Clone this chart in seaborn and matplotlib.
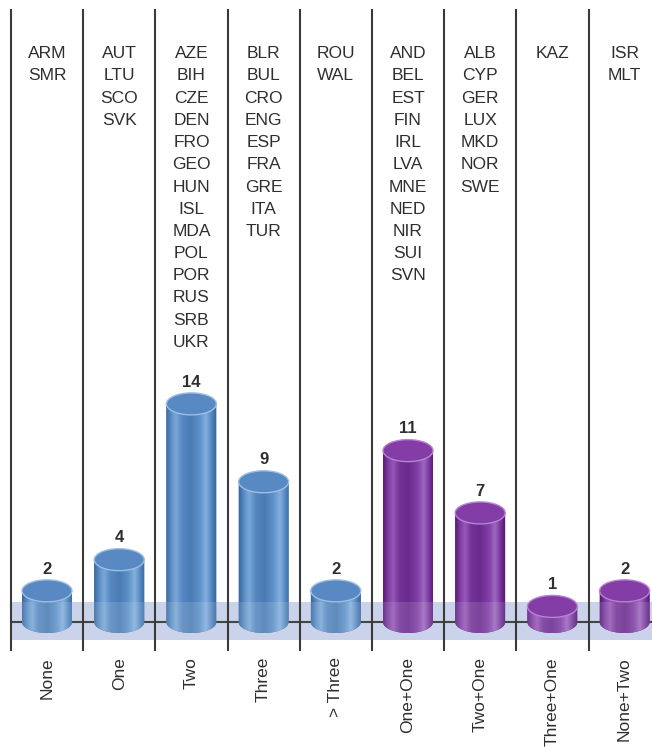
import numpy as np
import pandas as pd
import matplotlib
matplotlib.use("Agg")
import matplotlib.pyplot as plt
import seaborn as sns
from matplotlib.patches import Ellipse, Rectangle, PathPatch
from matplotlib.path import Path
from matplotlib.colors import LinearSegmentedColormap

# ---- data -------------------------------------------------------------
categories = ["None", "One", "Two", "Three", "> Three",
              "One+One", "Two+One", "Three+One", "None+Two"]
counts = [2, 4, 14, 9, 2, 11, 7, 1, 2]
groups = ["single"] * 5 + ["combined"] * 4
countries = [
    ["ARM", "SMR"],
    ["AUT", "LTU", "SCO", "SVK"],
    ["AZE", "BIH", "CZE", "DEN", "FRO", "GEO", "HUN", "ISL", "MDA",
     "POL", "POR", "RUS", "SRB", "UKR"],
    ["BLR", "BUL", "CRO", "ENG", "ESP", "FRA", "GRE", "ITA", "TUR"],
    ["ROU", "WAL"],
    ["AND", "BEL", "EST", "FIN", "IRL", "LVA", "MNE", "NED", "NIR",
     "SUI", "SVN"],
    ["ALB", "CYP", "GER", "LUX", "MKD", "NOR", "SWE"],
    ["KAZ"],
    ["ISR", "MLT"],
]

# ---- styling ----------------------------------------------------------
plt.rcParams["font.family"] = ["Liberation Sans", "DejaVu Sans"]
TEXT = "#2f2f2f"
base_colors = {"single": "#4f80b9", "combined": "#74349a"}
cap_colors = {"single": ("#5889c2", "#9dbfe3"), "combined": ("#843ca6", "#b883d2")}
body_maps = {
    "single": LinearSegmentedColormap.from_list("cyl_blue", [
        (0.00, "#38669e"), (0.10, "#5b8dc5"), (0.20, "#7ba8d9"),
        (0.32, "#5788c0"), (0.50, "#4a7bb4"), (0.68, "#5f92c9"),
        (0.80, "#84b0de"), (0.92, "#5284bc"), (1.00, "#38669e")]),
    "combined": LinearSegmentedColormap.from_list("cyl_purple", [
        (0.00, "#541b76"), (0.10, "#7d3ca1"), (0.20, "#9858b9"),
        (0.32, "#743497"), (0.50, "#6a2a8e"), (0.68, "#7f3fa4"),
        (0.80, "#9e68bf"), (0.92, "#733399"), (1.00, "#501a71")]),
}

# pixel layout helpers (figure is 652 x 747 px, axes fill it)
COL0, COLW = 47.0, 72.2        # first column centre, column pitch
BASE, UNIT = 622.0, 15.58      # baseline row, pixels per count


def X(px):
    return (px - COL0) / COLW


def Y(py):
    return (BASE - py) / UNIT


fig = plt.figure(figsize=(6.52, 7.47), dpi=100)
ax = fig.add_axes([0, 0, 1, 1])

df = pd.DataFrame({"category": categories, "count": counts, "group": groups})
bar_w = 50 / COLW
sns.barplot(data=df, x="category", y="count", hue="group", order=categories,
            hue_order=["single", "combined"],
            palette=base_colors, dodge=False, width=bar_w, legend=False,
            ax=ax, zorder=3, edgecolor="none", linewidth=0)

cap_h = 22 / UNIT

# floor band and baseline
ax.add_patch(Rectangle((X(11), Y(640)), X(700) - X(11), Y(602) - Y(640),
                       facecolor="#cad3e9", edgecolor="none", zorder=1))
ax.plot([X(11), X(700)], [0, 0], color="#444444", lw=1.5, zorder=1.5,
        solid_capstyle="butt")

# column dividers
for i in range(len(categories)):
    ax.plot([i - 0.5, i - 0.5], [Y(651), Y(9)], color="#3a3a3a", lw=1.5,
            zorder=2, solid_capstyle="butt")

# cylinder shading for every bar seaborn drew
for patch in ax.patches:
    if not isinstance(patch, Rectangle) or patch.get_zorder() != 3:
        continue
    x0 = patch.get_x()
    w = patch.get_width()
    h = patch.get_height()
    if w <= 0 or h <= 0:
        continue
    xc = x0 + w / 2
    idx = int(round(xc))
    grp = groups[idx]
    a, b = w / 2, cap_h / 2
    t = np.linspace(np.pi, 2 * np.pi, 60)
    verts = [(x0, h), (x0, 0)] + list(zip(xc + a * np.cos(t), b * np.sin(t))) \
        + [(x0 + w, 0), (x0 + w, h), (x0, h)]
    codes = [Path.MOVETO] + [Path.LINETO] * (len(verts) - 2) + [Path.CLOSEPOLY]
    body = PathPatch(Path(verts, codes), transform=ax.transData,
                     facecolor=base_colors[grp], edgecolor="none", zorder=3.05)
    ax.add_patch(body)
    grad = np.linspace(0, 1, 256).reshape(1, -1)
    im = ax.imshow(grad, cmap=body_maps[grp], aspect="auto",
                   extent=[x0, x0 + w, -b, h], interpolation="bicubic",
                   zorder=3.1)
    im.set_clip_path(body)
    # lighter lower part where the cylinder sits in the floor band
    sheen = Rectangle((x0, -b - 0.1), w, Y(602) + b + 0.1, facecolor="white",
                      alpha=0.12, edgecolor="none", zorder=3.15)
    ax.add_patch(sheen)
    sheen.set_clip_path(body)
    face, rim = cap_colors[grp]
    ax.add_patch(Ellipse((xc, h), w, cap_h, facecolor=face, edgecolor=rim,
                         lw=1.0, zorder=3.3))
    patch.set_visible(False)

# value labels
for i, v in enumerate(counts):
    ax.text(i, v + 17.3 / UNIT, str(v), ha="center", va="baseline",
            fontsize=12, fontweight="bold", color=TEXT, zorder=5)

# country lists
for i, names in enumerate(countries):
    for j, name in enumerate(names):
        ax.text(i, Y(58.3 + 22.2 * j), name, ha="center", va="baseline",
                fontsize=12.5, color=TEXT, zorder=5)

# category labels
for i, cat in enumerate(categories):
    ax.text(i, Y(657), cat, rotation=90, ha="center", va="top",
            fontsize=12.5, color=TEXT, zorder=5)

ax.set_xlim(X(0), X(652))
ax.set_ylim(Y(747), Y(0))
ax.axis("off")

fig.savefig("out.png", dpi=100, facecolor="white")
